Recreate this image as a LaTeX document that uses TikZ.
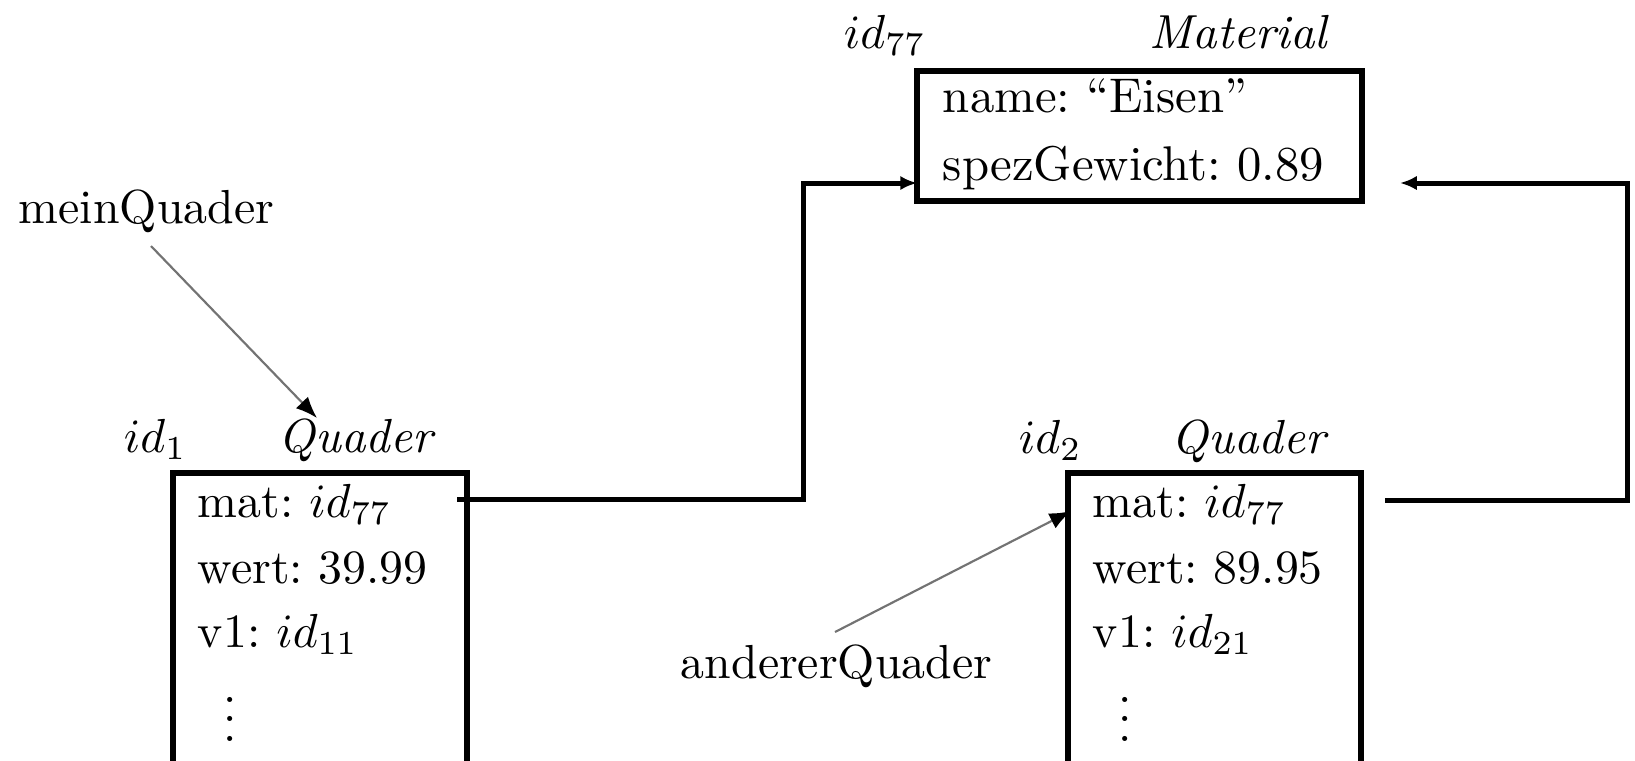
\documentclass[tikz,border=0pt]{standalone}
\usetikzlibrary{arrows.meta,fit}
\begin{document}
\frenchspacing
\begin{tikzpicture}[x=0.2092pt,y=-0.2092pt,
  txt/.style={inner sep=0pt, anchor=base west},
  objbox/.style={draw, line width=1.2pt, inner sep=0pt},
  conn/.style={line width=1.05pt, -{Latex[length=3.5pt,width=3pt]}},
  ptr/.style={line width=0.45pt, black!55, -{Latex[black,length=4.5pt,width=3.5pt]}}]
\useasboundingbox (0,0) rectangle (1635,760);
\clip (0,0) rectangle (1635,760);

% boxes
\node[objbox, fit={(917,71) (1362,201)}] (mat) {};
\node[objbox, fit={(173,473) (467,830)}] (q1) {};
\node[objbox, fit={(1068,473) (1361,830)}] (q2) {};

% Material
\node[txt] (matid) at (843,48) {$id_{77}$};
\node[txt, anchor=base east] (mattype) at (1330,48) {\textit{Material}};
\node[txt] (matname) at (942,112) {\fontsize{10.2}{12}\selectfont name: ``Eisen''};
\node[txt] (matspez) at (942,180) {\fontsize{10.2}{12}\selectfont spezGewicht: 0.89};

% Quader 1
\node[txt] (q1id) at (123,452) {$id_1$};
\node[txt] (q1type) at (278,452) {\textit{Quader}};
\node[txt] (q1mat) at (197,517) {mat: $id_{77}$};
\node[txt] (q1wert) at (197,583) {wert: 39.99};
\node[txt] (q1v) at (197,647) {v1: $id_{11}$};
\node[txt] (q1dots) at (223,741) {\smash{$\vdots$}};

% Quader 2
\node[txt] (q2id) at (1018,453) {$id_2$};
\node[txt] (q2type) at (1171,453) {\textit{Quader}};
\node[txt] (q2mat) at (1092,517) {mat: $id_{77}$};
\node[txt] (q2wert) at (1092,583) {wert: 89.95};
\node[txt] (q2v) at (1092,647) {v1: $id_{21}$};
\node[txt] (q2dots) at (1118,741) {\smash{$\vdots$}};

% variables
\node[txt] (mq) at (18,223) {meinQuader};
\node[txt] (aq) at (680,678) {andererQuader};

% connectors
\coordinate (q1out) at (457,499);
\coordinate (b1) at (803,499);
\coordinate (matinL) at (917,183);
\draw[conn] (q1out) -- (b1) |- (matinL);

\coordinate (q2out) at (1385,500);
\coordinate (b2) at (1627,500);
\coordinate (matinR) at (1400,183);
\draw[conn] (q2out) -- (b2) |- (matinR);

\coordinate (mqfrom) at (151,246);
\coordinate (q1in) at (317,418);
\draw[ptr] (mqfrom) -- (q1in);

\coordinate (aqfrom) at (835,632);
\coordinate (q2in) at (1071,511);
\draw[ptr] (aqfrom) -- (q2in);
\end{tikzpicture}
\end{document}
